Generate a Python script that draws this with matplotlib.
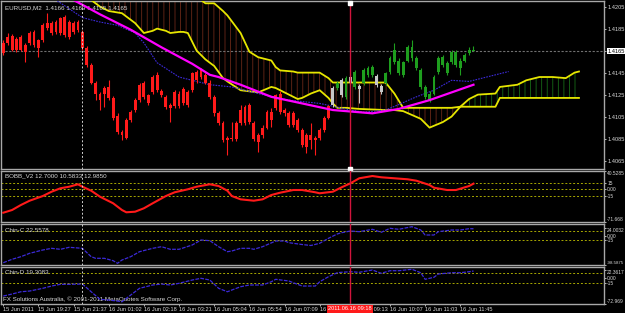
import numpy as np
import matplotlib
matplotlib.use("Agg")
import matplotlib.pyplot as plt
from matplotlib import transforms

W, H = 625, 313

# EURUSD M2 bars, bar 0 = first bar on screen
opens = [1.4172, 1.4172, 1.4178, 1.4166, 1.4177, 1.4164, 1.4172, 1.4182, 1.4167, 1.4175,
         1.4186, 1.4190, 1.4182, 1.4195, 1.4179, 1.4191, 1.4182, 1.4184, 1.4182, 1.4167,
         1.4152, 1.4136, 1.4126, 1.4126, 1.4132, 1.4122, 1.4106, 1.4091, 1.4086, 1.4102,
         1.4111, 1.4120, 1.4136, 1.4125, 1.4127, 1.4143, 1.4128, 1.4123, 1.4113, 1.4115,
         1.4126, 1.4117, 1.4127, 1.4129, 1.4138, 1.4141, 1.4143, 1.4136, 1.4123, 1.4108,
         1.4099, 1.4084, 1.4086, 1.4085, 1.4099, 1.4114, 1.4100, 1.4099, 1.4088, 1.4088,
         1.4095, 1.4109, 1.4113, 1.4126, 1.4111, 1.4108, 1.4097, 1.4102, 1.4093, 1.4077,
         1.4088, 1.4084, 1.4086, 1.4093, 1.4104, 1.4116, 1.4131, 1.4138, 1.4123, 1.4141,
         1.4132, 1.4133, 1.4136, 1.4143, 1.4150, 1.4142, 1.4133, 1.4136, 1.4146, 1.4155,
         1.4156, 1.4143, 1.4156, 1.4168, 1.4158, 1.4147, 1.4132, 1.4120, 1.4126, 1.4146,
         1.4159, 1.4154, 1.4155, 1.4164, 1.4149, 1.4156, 1.4163, 1.4166]
highs = [1.4175, 1.4181, 1.4180, 1.4177, 1.4179, 1.4172, 1.4183, 1.4184, 1.4176, 1.4190,
         1.4199, 1.4192, 1.4193, 1.4196, 1.4197, 1.4193, 1.4192, 1.4193, 1.4184, 1.4169,
         1.4154, 1.4137, 1.4127, 1.4133, 1.4138, 1.4124, 1.4108, 1.4093, 1.4104, 1.4111,
         1.4122, 1.4136, 1.4137, 1.4126, 1.4143, 1.4146, 1.4130, 1.4125, 1.4117, 1.4129,
         1.4128, 1.4132, 1.4129, 1.4146, 1.4147, 1.4149, 1.4145, 1.4138, 1.4125, 1.4110,
         1.4101, 1.4087, 1.4100, 1.4101, 1.4116, 1.4116, 1.4117, 1.4101, 1.4090, 1.4097,
         1.4111, 1.4113, 1.4126, 1.4128, 1.4113, 1.4110, 1.4110, 1.4104, 1.4095, 1.4090,
         1.4099, 1.4087, 1.4095, 1.4106, 1.4116, 1.4133, 1.4137, 1.4140, 1.4142, 1.4143,
         1.4147, 1.4135, 1.4149, 1.4151, 1.4152, 1.4144, 1.4135, 1.4146, 1.4160, 1.4172,
         1.4158, 1.4156, 1.4170, 1.4175, 1.4160, 1.4149, 1.4134, 1.4128, 1.4143, 1.4160,
         1.4161, 1.4156, 1.4166, 1.4166, 1.4158, 1.4163, 1.4168, 1.4169]
lows = [1.4161, 1.4170, 1.4165, 1.4164, 1.4165, 1.4155, 1.4170, 1.4168, 1.4159, 1.4173,
        1.4184, 1.4179, 1.4180, 1.4179, 1.4177, 1.4176, 1.4180, 1.4182, 1.4166, 1.4150,
        1.4135, 1.4120, 1.4111, 1.4114, 1.4120, 1.4102, 1.4089, 1.4084, 1.4085, 1.4100,
        1.4109, 1.4118, 1.4121, 1.4116, 1.4126, 1.4127, 1.4123, 1.4112, 1.4100, 1.4113,
        1.4113, 1.4116, 1.4114, 1.4127, 1.4136, 1.4139, 1.4135, 1.4121, 1.4106, 1.4097,
        1.4082, 1.4070, 1.4083, 1.4083, 1.4097, 1.4097, 1.4098, 1.4083, 1.4073, 1.4086,
        1.4094, 1.4096, 1.4111, 1.4107, 1.4106, 1.4096, 1.4096, 1.4091, 1.4077, 1.4072,
        1.4076, 1.4070, 1.4084, 1.4091, 1.4103, 1.4114, 1.4129, 1.4123, 1.4121, 1.4134,
        1.4130, 1.4117, 1.4134, 1.4141, 1.4141, 1.4132, 1.4126, 1.4134, 1.4144, 1.4153,
        1.4143, 1.4141, 1.4155, 1.4156, 1.4147, 1.4130, 1.4121, 1.4118, 1.4125, 1.4144,
        1.4150, 1.4143, 1.4153, 1.4150, 1.4143, 1.4155, 1.4161, 1.4165]
closes = [1.4163, 1.4177, 1.4166, 1.4176, 1.4166, 1.4170, 1.4181, 1.4170, 1.4175, 1.4188,
          1.4190, 1.4181, 1.4191, 1.4181, 1.4196, 1.4177, 1.4190, 1.4191, 1.4167, 1.4152,
          1.4136, 1.4126, 1.4120, 1.4131, 1.4122, 1.4104, 1.4091, 1.4088, 1.4102, 1.4109,
          1.4120, 1.4134, 1.4123, 1.4117, 1.4141, 1.4129, 1.4125, 1.4114, 1.4116, 1.4127,
          1.4115, 1.4130, 1.4116, 1.4145, 1.4146, 1.4147, 1.4136, 1.4123, 1.4108, 1.4099,
          1.4084, 1.4086, 1.4085, 1.4099, 1.4111, 1.4099, 1.4116, 1.4085, 1.4082, 1.4095,
          1.4109, 1.4102, 1.4125, 1.4109, 1.4108, 1.4097, 1.4108, 1.4093, 1.4079, 1.4088,
          1.4084, 1.4086, 1.4093, 1.4104, 1.4115, 1.4131, 1.4136, 1.4125, 1.4140, 1.4136,
          1.4146, 1.4130, 1.4147, 1.4149, 1.4143, 1.4134, 1.4127, 1.4145, 1.4158, 1.4166,
          1.4145, 1.4155, 1.4168, 1.4158, 1.4149, 1.4132, 1.4123, 1.4126, 1.4141, 1.4158,
          1.4152, 1.4145, 1.4164, 1.4152, 1.4156, 1.4161, 1.4166, 1.4165]
# bar colouring: r = below cloud, w = inside, g = above
state = "r" * 75 + "wgwgwgwgggww" + "g" * 21

# moving averages (bar index, price)
ma_x = [13, 16, 22, 29, 36, 43, 47, 49, 54, 61, 68, 75, 84, 90, 97, 107]
ma_y = [1.4217, 1.4211, 1.4198, 1.4184, 1.4168, 1.4153, 1.4143, 1.4141, 1.4134, 1.4123,
        1.4117, 1.4111, 1.4108, 1.4112, 1.4120, 1.4134]
slow_x = [11, 12, 18, 22, 26, 30, 32, 35, 40, 43, 47, 52, 59, 65, 72, 79, 82, 87, 90, 94,
          98, 102, 106, 109, 115]
slow_y = [1.4216, 1.4211, 1.4195, 1.4191, 1.4188, 1.4181, 1.4172, 1.4154, 1.4141, 1.4138,
          1.4134, 1.4132, 1.4125, 1.4120, 1.4117, 1.4111, 1.4109, 1.4111, 1.4116, 1.4123,
          1.4129, 1.4138, 1.4137, 1.4140, 1.4146]

# ichimoku cloud
cloud_x = [18, 20, 22, 24, 27, 30, 32, 34, 35, 37, 38, 40, 41, 42, 43, 44, 46, 48, 50, 51,
           54, 56, 58, 61, 62, 63, 66, 67, 68, 70, 72, 74, 75, 76, 78, 81, 87, 89, 91, 95,
           97, 100, 102, 104, 106, 108, 112, 113, 117, 119, 122, 125, 128, 130, 131]
span_a = [1.4220, 1.4211, 1.4205, 1.4201, 1.4199, 1.4190, 1.4181, 1.4183, 1.4185, 1.4183,
          1.4181, 1.4182, 1.4182, 1.4181, 1.4173, 1.4165, 1.4157, 1.4151, 1.4140, 1.4137,
          1.4129, 1.4128, 1.4127, 1.4132, 1.4131, 1.4129, 1.4123, 1.4121, 1.4122, 1.4126,
          1.4129, 1.4122, 1.4117, 1.4113, 1.4113, 1.4112, 1.4111, 1.4111, 1.4110, 1.4103,
          1.4095, 1.4100, 1.4105, 1.4114, 1.4121, 1.4125, 1.4126, 1.4132, 1.4134, 1.4138,
          1.4141, 1.4141, 1.4140, 1.4145, 1.4146]
span_b = [1.4238, 1.4238, 1.4238, 1.4238, 1.4238, 1.4238, 1.4238, 1.4238, 1.4236, 1.4233,
          1.4231, 1.4228, 1.4227, 1.4226, 1.4222, 1.4214, 1.4208, 1.4208, 1.4201, 1.4197,
          1.4181, 1.4164, 1.4159, 1.4156, 1.4150, 1.4147, 1.4146, 1.4145, 1.4145, 1.4145,
          1.4145, 1.4140, 1.4136, 1.4136, 1.4136, 1.4136, 1.4136, 1.4126, 1.4113, 1.4113,
          1.4113, 1.4113, 1.4113, 1.4114, 1.4114, 1.4114, 1.4114, 1.4122, 1.4122, 1.4122,
          1.4122, 1.4122, 1.4122, 1.4122, 1.4122]

# BOBB_V2
bobb_x = [0, 2, 4, 6, 9, 11, 13, 15, 17, 18, 20, 22, 25, 27, 28, 30, 32, 34, 37, 39, 42,
          44, 47, 49, 51, 52, 54, 57, 59, 61, 63, 66, 68, 71, 72, 75, 77, 79, 81, 84, 86,
          89, 92, 94, 97, 98, 101, 103, 106, 107]
bobb_y = [-51.2, -45.3, -34.3, -24.8, -14.5, -5.0, 2.5, 6.0, 11.3, 6.0, -2.8, -16.0, -30.5,
          -45.3, -50.3, -49.0, -41.5, -30.5, -14.5, -6.3, 0.3, 6.0, 11.3, 7.5, -2.8, -14.5,
          -21.8, -24.8, -21.8, -12.3, -7.2, -1.3, -1.3, -6.3, -8.5, -5.0, 4.7, 13.5, 24.5,
          29.5, 26.7, 24.5, 22.3, 19.2, 9.7, 3.8, -1.3, -1.3, 7.5, 12.7]

# Chin-C
chc_x = [0, 2, 4, 6, 9, 11, 13, 15, 18, 20, 21, 23, 25, 26, 27, 29, 31, 34, 36, 38, 40, 43,
         45, 47, 49, 51, 52, 54, 56, 57, 59, 62, 64, 65, 68, 70, 72, 74, 76, 77, 79, 81, 84,
         86, 88, 90, 93, 95, 96, 98, 99, 102, 104, 106, 107]
chc_y = [-90.9, -79.5, -70.8, -59.5, -48.4, -42.8, -46.1, -39.4, -42.8, -70.8, -76.2, -76.2,
         -84.2, -92.9, -81.9, -70.8, -54.1, -42.8, -37.4, -46.1, -46.1, -31.7, -15.0, -17.3,
         -37.4, -54.1, -51.8, -42.8, -42.8, -46.1, -37.4, -18.3, -18.3, -24.0, -30.1, -33.4,
         -26.0, -9.3, 5.1, 9.4, 15.1, 12.8, 20.8, 10.7, 24.1, 20.8, 29.5, 18.4, 1.7, 1.7,
         12.8, 18.4, 18.4, 22.8, 22.6]

# Chin-D
chd_x = [0, 2, 4, 6, 9, 11, 13, 15, 18, 20, 22, 24, 26, 27, 29, 31, 34, 36, 38, 40, 43, 45,
         47, 49, 51, 52, 54, 56, 59, 61, 62, 65, 66, 68, 71, 72, 74, 76, 77, 79, 81, 84, 86,
         88, 90, 93, 95, 96, 98, 99, 102, 104, 106, 107]
chd_y = [-50.7, -45.1, -38.7, -36.7, -29.1, -22.7, -17.9, -17.9, -17.1, -38.7, -59.9, -61.9,
         -64.7, -66.7, -47.9, -29.1, -19.9, -17.1, -19.9, -15.1, -5.9, -1.1, -5.9, -29.1,
         -38.7, -33.9, -24.7, -19.9, -19.9, -10.7, -3.9, -8.7, -13.5, -22.7, -22.7, -10.7,
         3.3, 14.5, 15.7, 17.3, 15.7, 22.1, 12.9, 20.1, 20.1, 24.1, 14.5, -3.9, 1.7, 10.9,
         14.5, 14.5, 17.3, 19.3]

price_ticks = [1.4065, 1.4085, 1.4105, 1.4125, 1.4145, 1.4165, 1.4185, 1.4205]
time_ticks = [0, 8, 16, 24, 32, 40, 48, 56, 64, 72, 80, 88, 96, 104]
time_labels = ["15 Jun 2011", "15 Jun 19:27", "15 Jun 21:37", "16 Jun 01:02", "16 Jun 02:18",
               "16 Jun 03:21", "16 Jun 05:04", "16 Jun 05:54", "16 Jun 07:09", "16 Jun 08:27",
               "16 Jun 09:13", "16 Jun 10:07", "16 Jun 11:03", "16 Jun 11:45"]
cross_bar = 17.9
event_bar = 79.0

plt.rcParams["font.family"] = ["Liberation Sans", "DejaVu Sans"]
plt.rcParams["hatch.linewidth"] = 0.6
TXT = "#d8d8d8"
FS = 4.5   # pane captions
TS = 4.1   # axis tick labels
SS = 3.5   # indicator pane scale labels

fig = plt.figure(figsize=(W / 100, H / 100), dpi=100, facecolor="black")


def pane(top, bottom, size):
    ax = fig.add_axes([1 / W, 1 - bottom / H, 603 / W, (bottom - top) / H])
    ax.set_facecolor("black")
    for s in ax.spines.values():
        s.set_color("#a8a8a8")
        s.set_linewidth(1.0)
    ax.set_xlim(-0.52, 136.7)
    ax.yaxis.tick_right()
    ax.tick_params(axis="y", colors=TXT, labelsize=size, length=1.5, width=0.6, pad=0.8)
    ax.tick_params(axis="x", bottom=False, labelbottom=False)
    ax.axvline(cross_bar, color="#d0d0d0", lw=0.7, ls=(0, (2, 2)), zorder=7)
    ax.axvline(event_bar, color="#d0143c", lw=1.0, zorder=7)
    return ax


def scale_labels(ax, ticks, labels):
    # top value hangs below the pane edge, bottom value sits above it
    ax.set_yticks(ticks)
    ax.set_yticklabels(labels)
    tl = ax.get_yticklabels()
    tl[0].set_va("top")
    tl[-1].set_va("bottom")
    for t in (tl[0], tl[-1]):
        if len(t.get_text()) > 7:
            t.set_fontsize(SS - 0.3)


# ---- main price pane ----
ax = pane(1, 169, TS)
ax.set_ylim(1.40574, 1.42101)

ca, cb = np.array(span_a), np.array(span_b)
ax.fill_between(cloud_x, ca, cb, where=cb >= ca, interpolate=True, facecolor="none",
                edgecolor="#6a2818", hatch="|||", lw=0, zorder=1)
ax.fill_between(cloud_x, ca, cb, where=ca >= cb, interpolate=True, facecolor="none",
                edgecolor="#176a17", hatch="|||", lw=0, zorder=1)
ax.plot(cloud_x, ca, color="#e6e600", lw=1.3, zorder=3)
ax.plot(cloud_x, cb, color="#e6e600", lw=1.3, zorder=3)

ax.plot(slow_x, slow_y, color="#3c2ad8", lw=0.8, ls=(0, (1.5, 1)), zorder=3)
ax.axhline(closes[-1], color="#707070", lw=0.8, ls=(0, (2, 1.5)), zorder=1)

x = np.arange(len(opens))
o, h, l, c = map(np.array, (opens, highs, lows, closes))
colmap = {"r": "#ff1a1a", "w": "#c8c8c8", "g": "#1e9e1e"}
cols = [colmap[s] for s in state]
ax.vlines(x, l, h, colors=cols, lw=0.8, zorder=4)
ax.bar(x, np.maximum(np.abs(c - o), 0.00005), bottom=np.minimum(o, c), width=0.65,
       color=cols, lw=0, zorder=5)
ax.plot(ma_x, ma_y, color="#ff00ff", lw=1.6, zorder=6)

ax.set_yticks(price_ticks)
ax.set_yticklabels([f"{p:.4f}" for p in price_ticks])
for t in ax.get_yticklabels():
    if t.get_text() == "1.4165":
        t.set_color("black")
        t.set_bbox(dict(facecolor="white", edgecolor="none", pad=0.5))
ax.text(0.006, 0.975, "EURUSD,M2  1.4166 1.4169 1.4165 1.4165", transform=ax.transAxes,
        va="top", color=TXT, fontsize=FS)
bt = transforms.blended_transform_factory(ax.transData, ax.transAxes)
ax.plot([event_bar, event_bar], [0.99, 0.0], ls="none", marker="s", ms=2.2, color="white",
        transform=bt, clip_on=False, zorder=8)

# ---- BOBB_V2 ----
ax = pane(171, 222, SS)
ax.set_ylim(-71.668, 40.5285)
for lv in (15, 0, -15):
    ax.axhline(lv, color="#a8a800", lw=0.7, ls=(0, (2, 2)), zorder=1)
ax.plot(bobb_x, bobb_y, color="#ff1a1a", lw=1.5, zorder=4)
scale_labels(ax, [40.5285, 15, 0, -15, -71.668], ["40.5285", "15", "0.00", "-15", "-71.668"])
ax.text(0.006, 0.9, "BOBB_V2 12.7000 10.5833 12.9850", transform=ax.transAxes,
        va="center", color=TXT, fontsize=FS)

# ---- Chin-C ----
ax = pane(224, 265, SS)
ax.set_ylim(-98.5875, 38.5)
for lv in (15, -15):
    ax.axhline(lv, color="#a8a800", lw=0.7, ls=(0, (2, 2)), zorder=1)
ax.plot(chc_x, chc_y, color="#3c2ad8", lw=0.9, ls=(0, (3, 1)), zorder=4)
scale_labels(ax, [24.0032, 0, -15, -98.5875], ["24.0032", "0.00", "-15", "-98.5875"])
ax.text(0.006, 0.85, "Chin-C 22.5578", transform=ax.transAxes, va="center", color=TXT,
        fontsize=FS)

# ---- Chin-D ----
ax = pane(267, 304, SS)
ax.set_ylim(-72.969, 30.5)
for lv in (15, -15):
    ax.axhline(lv, color="#a8a800", lw=0.7, ls=(0, (2, 2)), zorder=1)
ax.plot(chd_x, chd_y, color="#3c2ad8", lw=0.9, ls=(0, (3, 1)), zorder=4)
scale_labels(ax, [22.3617, 0, -15, -72.969], ["22.3617", "0.00", "-15", "-72.969"])
ax.text(0.006, 0.86, "Chin-D 19.3083", transform=ax.transAxes, va="center", color=TXT,
        fontsize=FS)
ax.text(0.004, 0.14, "FX Solutions Australia, \u00a9 2001-2011 MetaQuotes Software Corp.",
        transform=ax.transAxes, va="center", color=TXT, fontsize=FS)
ax.set_xticks(time_ticks)
ax.set_xticklabels(time_labels, ha="left")
ax.tick_params(axis="x", bottom=True, labelbottom=True, colors=TXT, labelsize=TS,
               length=1.5, width=0.6, pad=0.5)

fig.text(350 / W, 1 - 309 / H, "2011.06.16 09:18", ha="center", va="center", fontsize=TS,
         color="white", bbox=dict(facecolor="#ff1a1a", edgecolor="none", pad=0.8), zorder=10)

fig.savefig("out.png", dpi=100, facecolor="black")
